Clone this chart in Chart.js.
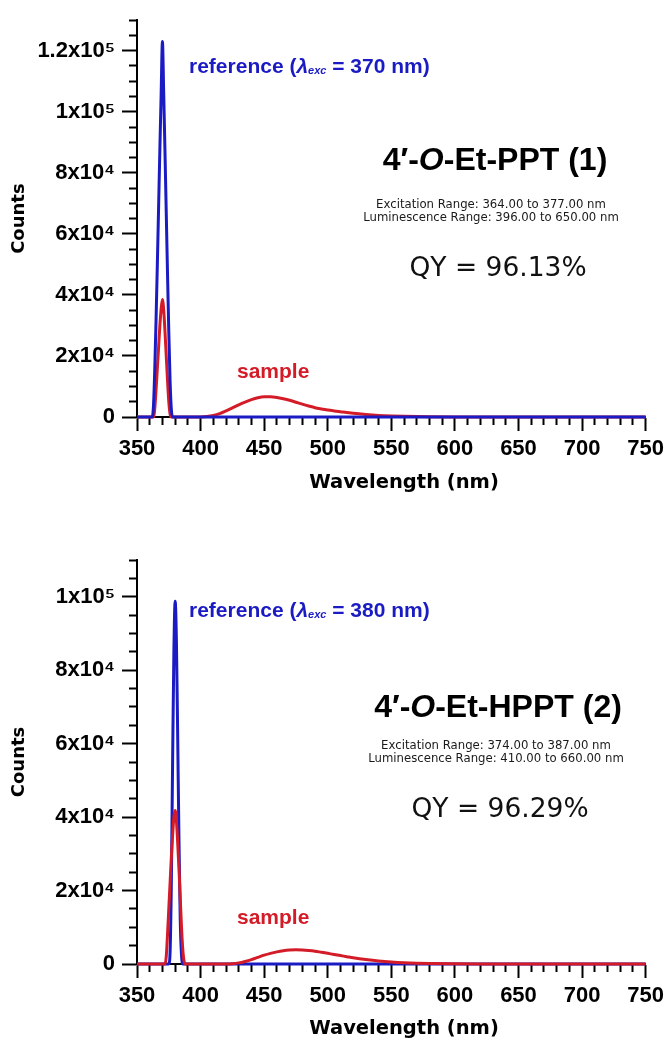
<!DOCTYPE html>
<html>
<head>
<meta charset="utf-8">
<script src="https://cdn.jsdelivr.net/npm/chart.js@4.4.1/dist/chart.umd.min.js"></script>
<style>
  html, body { margin: 0; padding: 0; background: #fff; }
  #wrap { position: relative; width: 669px; height: 1040px; overflow: hidden; background: #fff; }
  canvas { position: absolute; left: 0; }
  #c1 { top: 0; }
  #c2 { top: 520px; }
</style>
</head>
<body>
<div id="wrap">
  <canvas id="c1" width="669" height="520"></canvas>
  <canvas id="c2" width="669" height="520"></canvas>
</div>
<script>
// ---- wavelength axis (nm) ----
const xMin = 350;
const xMax = 750;
const xMajorStep = 50;
const xMinorStep = 10;

// ---- 4'-O-Et-PPT (1) ----
const refWavelength1 = [350, 362, 363, 364, 365, 366, 367, 368, 369, 370, 371, 372, 373, 374, 375, 376, 377, 378, 750];
const refCounts1     = [0, 0, 4000, 16000, 32000, 50000, 69000, 88000, 106000, 123000, 106000, 87000, 67000, 47000, 28000, 12000, 2500, 0, 0];

const sampleWavelength1 = [350, 363, 364, 365, 366, 367, 368, 369, 370, 371, 372, 373, 374, 375, 376, 377,
  400, 405, 410, 415, 420, 425, 430, 435, 440, 445, 450, 455, 460, 465, 470, 475, 480, 485, 490, 495, 500, 505, 510,
  520, 530, 540, 550, 560, 570, 580, 600, 620, 750];
const sampleCounts1 = [0, 0, 3000, 9000, 16000, 23000, 30000, 35500, 38500, 35000, 28000, 20000, 12000, 5000, 1000, 0,
  0, 150, 500, 1100, 2000, 3000, 4000, 4900, 5700, 6300, 6600, 6600, 6400, 6000, 5500, 4850, 4200, 3600, 3050, 2650, 2300, 2000, 1720,
  1200, 820, 530, 340, 210, 125, 75, 25, 0, 0];

const yMax1 = 130000;
const yMinorStep1 = 5000;
const yTickValues1 = [0, 20000, 40000, 60000, 80000, 100000, 120000];
const yTickLabels1 = ['0', '2x10⁴', '4x10⁴', '6x10⁴', '8x10⁴', '1x10⁵', '1.2x10⁵'];

// ---- 4'-O-Et-HPPT (2) ----
const refWavelength2 = [350, 375, 376, 377, 378, 379, 380, 381, 382, 383, 384, 385, 386, 750];
const refCounts2     = [0, 0, 3000, 22000, 55000, 85000, 98800, 88000, 62000, 34000, 12000, 2500, 0, 0];

const sampleWavelength2 = [350, 372, 373, 374, 375, 376, 377, 378, 379, 380, 381, 382, 383, 384, 385, 386, 387, 388,
  420, 425, 430, 435, 440, 445, 450, 455, 460, 465, 470, 475, 480, 485, 490, 495, 500, 505, 510, 515, 520,
  530, 540, 550, 560, 570, 580, 600, 620, 750];
const sampleCounts2 = [0, 0, 2000, 8000, 15000, 22000, 29000, 35000, 40000, 41800, 39000, 33000, 26000, 18000, 10000, 4000, 800, 0,
  0, 80, 300, 700, 1200, 1800, 2400, 2900, 3300, 3600, 3780, 3850, 3820, 3700, 3500, 3200, 2900, 2600, 2300, 2000, 1700,
  1200, 800, 520, 320, 190, 110, 35, 0, 0];

const yMax2 = 110000;
const yMinorStep2 = 5000;
const yTickValues2 = [0, 20000, 40000, 60000, 80000, 100000];
const yTickLabels2 = ['0', '2x10⁴', '4x10⁴', '6x10⁴', '8x10⁴', '1x10⁵'];

// ---- styling ----
const BLUE = '#1b1bc4';
const RED = '#d41c28';
const ARIAL = '"Liberation Sans", Arial, sans-serif';
const DEJAVU = '"DejaVu Sans", Verdana, sans-serif';

function toPoints(xs, ys) {
  return xs.map((x, i) => ({ x: x, y: ys[i] }));
}

// free text drawn over the plot (labels, compound name, ranges, QY)
function notesPlugin(items) {
  return {
    id: 'notes',
    afterDraw(chart) {
      const ctx = chart.ctx;
      ctx.save();
      ctx.textBaseline = 'alphabetic';
      ctx.textAlign = 'left';
      items.forEach(item => {
        const widths = item.runs.map(r => { ctx.font = r.font; return ctx.measureText(r.text).width; });
        const total = widths.reduce((a, b) => a + b, 0);
        let x = item.align === 'center' ? item.x - total / 2 : item.x;
        item.runs.forEach((r, i) => {
          ctx.font = r.font;
          ctx.fillStyle = r.color;
          ctx.fillText(r.text, x, item.y + (r.dy || 0));
          x += widths[i];
        });
      });
      ctx.restore();
    }
  };
}

function makeChart(canvasId, opts) {
  const isMajorY = v => opts.yTickValues.indexOf(v) >= 0;
  const isMajorX = v => v % xMajorStep === 0;
  const datasets = opts.series.map(s => ({
    data: toPoints(s.x, s.y),
    borderColor: s.color,
    borderWidth: 3,
    pointRadius: 0,
    cubicInterpolationMode: 'monotone',
    borderJoinStyle: 'round',
    clip: false,
    fill: false
  }));
  return new Chart(document.getElementById(canvasId), {
    type: 'line',
    data: { datasets: datasets },
    plugins: [notesPlugin(opts.notes)],
    options: {
      responsive: false,
      animation: false,
      devicePixelRatio: 1,
      events: [],
      layout: { padding: { left: 0, right: 23, top: opts.padTop, bottom: 0 } },
      plugins: { legend: { display: false }, tooltip: { enabled: false } },
      scales: {
        x: {
          type: 'linear',
          min: xMin,
          max: xMax,
          afterFit: s => { s.height = opts.xHeight; },
          border: { display: true, color: '#000', width: 2 },
          grid: {
            drawOnChartArea: false,
            drawTicks: true,
            tickLength: 14,
            tickWidth: 2,
            tickColor: '#000',
            tickBorderDash: c => (c.tick && !isMajorX(c.tick.value)) ? [7, 40] : []
          },
          ticks: {
            stepSize: xMinorStep,
            autoSkip: false,
            maxRotation: 0,
            minRotation: 0,
            padding: 5,
            color: '#000',
            font: { family: ARIAL, size: 22, weight: 'bold' },
            callback: v => isMajorX(v) ? String(v) : ''
          }
        },
        y: {
          type: 'linear',
          min: 0,
          max: opts.yMax,
          afterFit: s => { s.width = 137; },
          border: { display: true, color: '#000', width: 2 },
          grid: {
            drawOnChartArea: false,
            drawTicks: true,
            tickLength: 15,
            tickWidth: 2,
            tickColor: '#000',
            tickBorderDash: c => (c.tick && !isMajorY(c.tick.value)) ? [8, 7] : [],
            tickBorderDashOffset: c => (c.tick && !isMajorY(c.tick.value)) ? 8 : 0
          },
          ticks: {
            stepSize: opts.yStep,
            autoSkip: false,
            padding: 7,
            color: '#000',
            font: { family: ARIAL, size: 22, weight: 'bold' },
            callback: v => {
              const i = opts.yTickValues.indexOf(v);
              return i < 0 ? '' : opts.yTickLabels[i];
            }
          },
          title: {
            display: true,
            text: 'Counts',
            color: '#000',
            font: { family: DEJAVU, size: 18, weight: 'bold' },
            padding: { top: 9, bottom: 0 }
          }
        }
      }
    }
  });
}

function refLabel(x, y, nm) {
  return { x: x, y: y, align: 'left', runs: [
    { text: 'reference (', font: 'bold 21px ' + ARIAL, color: BLUE },
    { text: 'λ', font: 'italic bold 21px ' + ARIAL, color: BLUE },
    { text: 'exc', font: 'italic bold 11px ' + ARIAL, color: BLUE, dy: 1 },
    { text: ' = ' + nm + ' nm)', font: 'bold 21px ' + ARIAL, color: BLUE }
  ] };
}

function compoundNotes(o) {
  return [
    refLabel(189, o.refY, o.nm),
    { x: 237, y: o.sampleY, align: 'left', runs: [{ text: 'sample', font: 'bold 21px ' + ARIAL, color: RED }] },
    { x: o.titleX, y: o.titleY, align: 'center', runs: [
      { text: '4′-', font: 'bold 32px ' + ARIAL, color: '#000' },
      { text: 'O', font: 'italic bold 32px ' + ARIAL, color: '#000' },
      { text: o.nameTail, font: 'bold 32px ' + ARIAL, color: '#000' }
    ] },
    { x: o.rangeX, y: o.rangeY, align: 'center', runs: [{ text: o.excitation, font: '11.7px ' + DEJAVU, color: '#1a1a1a' }] },
    { x: o.rangeX, y: o.rangeY + 13, align: 'center', runs: [{ text: o.luminescence, font: '11.7px ' + DEJAVU, color: '#1a1a1a' }] },
    { x: o.qyX, y: o.qyY, align: 'center', runs: [{ text: o.qy, font: '26.5px ' + DEJAVU, color: '#111' }] },
    { x: 404, y: o.xTitleY, align: 'center', runs: [{ text: 'Wavelength (nm)', font: 'bold 19.5px ' + DEJAVU, color: '#000' }] }
  ];
}

makeChart('c1', {
  padTop: 16,
  xHeight: 103,
  yMax: yMax1,
  yStep: yMinorStep1,
  yTickValues: yTickValues1,
  yTickLabels: yTickLabels1,
  series: [
    { x: refWavelength1, y: refCounts1, color: BLUE },
    { x: sampleWavelength1, y: sampleCounts1, color: RED }
  ],
  notes: compoundNotes({
    nm: 370, refY: 73, sampleY: 378,
    titleX: 495, titleY: 170, nameTail: '-Et-PPT (1)',
    rangeX: 491, rangeY: 208,
    excitation: 'Excitation Range: 364.00 to 377.00 nm',
    luminescence: 'Luminescence Range: 396.00 to 650.00 nm',
    qyX: 498, qyY: 276, qy: 'QY = 96.13%',
    xTitleY: 488
  })
});

makeChart('c2', {
  padTop: 40,
  xHeight: 76,
  yMax: yMax2,
  yStep: yMinorStep2,
  yTickValues: yTickValues2,
  yTickLabels: yTickLabels2,
  series: [
    { x: sampleWavelength2, y: sampleCounts2, color: RED },
    { x: refWavelength2, y: refCounts2, color: BLUE }
  ],
  notes: compoundNotes({
    nm: 380, refY: 97, sampleY: 404,
    titleX: 498, titleY: 197, nameTail: '-Et-HPPT (2)',
    rangeX: 496, rangeY: 229,
    excitation: 'Excitation Range: 374.00 to 387.00 nm',
    luminescence: 'Luminescence Range: 410.00 to 660.00 nm',
    qyX: 500, qyY: 297, qy: 'QY = 96.29%',
    xTitleY: 514
  })
});
</script>
</body>
</html>
